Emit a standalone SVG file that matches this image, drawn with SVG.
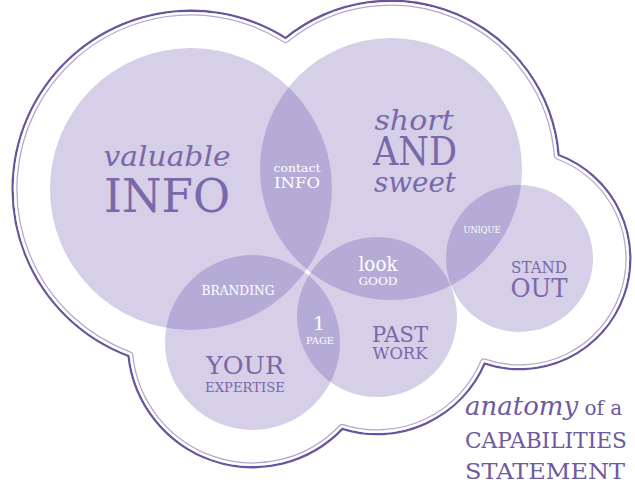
<svg xmlns="http://www.w3.org/2000/svg" width="635" height="489" viewBox="0 0 635 489">
<style>
.c{fill:#573fa3;fill-opacity:0.25}
text{font-family:"DejaVu Serif","Liberation Serif",serif;text-anchor:middle}
.d{fill:#7b68a8}
.w{fill:#ffffff}
.i{font-style:italic}
.t{fill:#6f5a9f;text-anchor:start}
</style>
<defs>
<path id="cloud" d="M 285.6 39.45 A 167 167 0 0 1 557.5 155.8 A 109.5 109.5 0 0 1 483.9 362.05 A 116 116 0 0 1 342 427.6 A 123.5 123.5 0 0 1 129.6 355 A 177 177 0 1 1 285.6 39.45 Z"/>
<mask id="inside"><use href="#cloud" fill="#fff"/></mask>
<mask id="outside"><rect width="635" height="489" fill="#fff"/><use href="#cloud" fill="#000"/></mask>
</defs>
<rect width="635" height="489" fill="#ffffff"/>
<g id="cloud-outline" fill="none" stroke-linejoin="round">
<use href="#cloud" stroke="#6a549c" stroke-width="4.6" mask="url(#outside)"/>
<use href="#cloud" stroke="#b3a8cc" stroke-width="7.5" mask="url(#inside)"/>
<use href="#cloud" stroke="#ffffff" stroke-width="5" mask="url(#inside)"/>
</g>
<g id="valuable-info">
<circle class="c" cx="191" cy="189" r="141"/>
<text class="d i" x="167" y="166" font-size="28" textLength="127" lengthAdjust="spacingAndGlyphs">valuable</text>
<text class="d" x="167" y="212" font-size="46" textLength="126" lengthAdjust="spacingAndGlyphs">INFO</text>
</g>
<g id="short-and-sweet">
<circle class="c" cx="391" cy="169" r="131"/>
<text class="d i" x="414" y="130" font-size="28" textLength="79" lengthAdjust="spacingAndGlyphs">short</text>
<text class="d" x="415" y="165" font-size="40" textLength="84" lengthAdjust="spacingAndGlyphs">AND</text>
<text class="d i" x="415" y="192" font-size="28" textLength="82" lengthAdjust="spacingAndGlyphs">sweet</text>
</g>
<g id="stand-out">
<circle class="c" cx="519.5" cy="258.5" r="73.5"/>
<text class="d" x="539" y="273" font-size="17" textLength="56" lengthAdjust="spacingAndGlyphs">STAND</text>
<text class="d" x="539" y="297" font-size="26" textLength="57" lengthAdjust="spacingAndGlyphs">OUT</text>
</g>
<g id="past-work">
<circle class="c" cx="377" cy="317" r="80"/>
<text class="d" x="400" y="342" font-size="22" textLength="56" lengthAdjust="spacingAndGlyphs">PAST</text>
<text class="d" x="400" y="359" font-size="16" textLength="55" lengthAdjust="spacingAndGlyphs">WORK</text>
</g>
<g id="your-expertise">
<circle class="c" cx="252.5" cy="342.5" r="87.5"/>
<text class="d" x="245" y="374" font-size="24" textLength="78" lengthAdjust="spacingAndGlyphs">YOUR</text>
<text class="d" x="245" y="392" font-size="12" textLength="80" lengthAdjust="spacingAndGlyphs">EXPERTISE</text>
</g>
<g id="contact-info">
<text class="w" x="297" y="172" font-size="11.5" textLength="47" lengthAdjust="spacingAndGlyphs">contact</text>
<text class="w" x="297" y="188" font-size="14.5" textLength="46" lengthAdjust="spacingAndGlyphs">INFO</text>
</g>
<g id="unique">
<text class="w" x="482" y="233" font-size="9.5" textLength="37" lengthAdjust="spacingAndGlyphs">UNIQUE</text>
</g>
<g id="look-good">
<text class="w" x="378" y="271" font-size="20" textLength="39" lengthAdjust="spacingAndGlyphs">look</text>
<text class="w" x="378" y="285" font-size="10.5" textLength="39" lengthAdjust="spacingAndGlyphs">GOOD</text>
</g>
<g id="branding">
<text class="w" x="238" y="295" font-size="12.5" textLength="73" lengthAdjust="spacingAndGlyphs">BRANDING</text>
</g>
<g id="one-page">
<text class="w" x="319" y="330" font-size="19">1</text>
<text class="w" x="320" y="344" font-size="10" textLength="28" lengthAdjust="spacingAndGlyphs">PAGE</text>
</g>
<g id="title">
<text class="t" x="465" y="415" font-size="20"><tspan class="i" font-size="26">anatomy</tspan> of a</text>
<text class="t" x="465" y="448" font-size="22" textLength="162" lengthAdjust="spacingAndGlyphs">CAPABILITIES</text>
<text class="t" x="465" y="479" font-size="22" textLength="160" lengthAdjust="spacingAndGlyphs">STATEMENT</text>
</g>
</svg>
